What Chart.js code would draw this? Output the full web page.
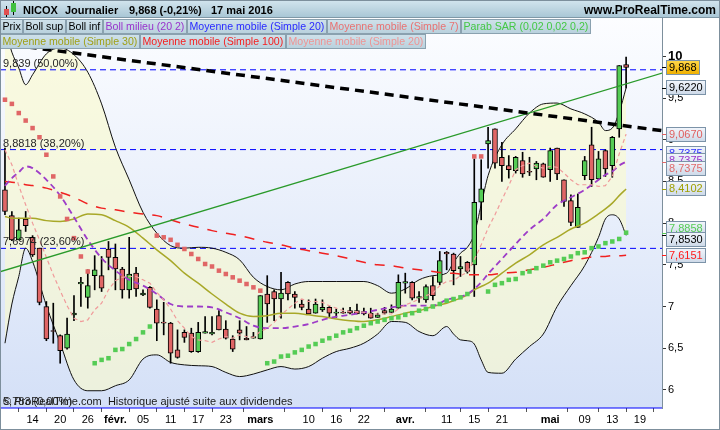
<!DOCTYPE html>
<html>
<head>
<meta charset="utf-8">
<title>NICOX Journalier</title>
<script src="https://cdn.jsdelivr.net/npm/chart.js@4.4.1/dist/chart.umd.min.js"></script>
<style>
  html, body { margin: 0; padding: 0; background: #fff; }
  canvas { display: block; }
</style>
</head>
<body>
<canvas id="chart" width="720" height="430"></canvas>
<script>
// NICOX daily candles, 8 Jan -> 17 May 2016 (x = trading day index)
const opens = [8.40,8.09,7.80,8.05,7.83,7.70,7.00,6.71,6.65,6.50, 6.90,7.27,7.11,7.37,7.37,7.69,7.59,7.45,7.20,7.40,
  7.14,7.23,6.97,6.81,6.80,6.48,6.69,6.68,6.46,6.68, 6.67,6.89,6.73,6.61,6.72,6.62,6.62,6.61,7.15,7.18,
  7.09,7.29,7.15,7.03,6.97,6.92,6.96,6.99,6.92,6.93, 6.95,6.95,6.94,6.92,6.87,6.95,6.93,6.98,7.28,7.29,
  7.10,7.08,7.25,7.29,7.65,7.63,7.45,7.53,7.50,8.25, 8.95,9.13,8.79,8.69,8.63,8.75,8.62,8.65,8.71,8.64,
  8.90,8.52,8.27,7.95,8.57,8.94,8.53,8.87,8.69,9.13, 9.90];
const highs = [8.90,8.14,8.06,8.14,7.85,7.70,7.06,7.04,6.66,6.86, 7.13,7.35,7.44,7.61,7.60,7.78,7.75,7.47,7.83,7.47,
  7.20,7.24,7.08,7.05,6.81,6.72,6.72,6.74,6.81,6.88, 6.88,6.95,6.83,6.65,6.83,6.76,6.69,7.13,7.37,7.20,
  7.41,7.30,7.18,7.08,7.08,7.09,7.08,7.00,6.97,6.98, 6.99,7.03,6.98,6.98,6.92,6.99,7.02,7.38,7.40,7.30,
  7.18,7.26,7.36,7.66,7.66,7.64,7.60,7.54,8.77,8.76, 9.15,9.13,8.97,8.81,8.80,8.85,8.79,8.74,8.72,8.90,
  8.90,8.52,8.34,8.35,8.80,9.15,8.86,8.88,9.04,9.89, 9.99];
const lows = [8.10,7.79,7.80,7.90,7.60,7.02,6.59,6.56,6.32,6.49, 6.83,7.00,6.98,7.20,7.18,7.44,7.20,7.10,7.10,7.12,
  7.13,6.98,6.59,6.66,6.32,6.38,6.57,6.45,6.45,6.68, 6.66,6.72,6.61,6.46,6.60,6.60,6.62,6.61,6.81,6.83,
  6.86,7.08,6.98,6.96,6.91,6.92,6.94,6.88,6.87,6.92, 6.91,6.91,6.90,6.86,6.87,6.91,6.93,6.98,7.16,7.08,
  7.05,7.05,7.08,7.26,7.44,7.26,7.36,7.40,7.12,8.04, 8.66,8.66,8.50,8.54,8.60,8.55,8.57,8.52,8.55,8.50,
  8.52,8.20,7.97,7.95,8.52,8.44,8.52,8.56,8.55,9.03, 9.62];
const closes = [8.14,7.80,7.92,7.97,7.62,7.05,6.61,6.70,6.47,6.67, 6.92,7.29,7.25,7.44,7.22,7.59,7.45,7.20,7.39,7.21,
  7.16,6.99,6.80,6.80,6.44,6.39,6.63,6.46,6.69,6.70, 6.69,6.72,6.62,6.49,6.68,6.60,6.64,7.13,7.03,7.09,
  7.16,7.15,7.11,6.99,6.91,7.03,6.99,6.92,6.92,6.92, 6.92,6.91,6.91,6.86,6.90,6.92,6.97,7.29,7.30,7.10,
  7.12,7.24,7.13,7.55,7.63,7.43,7.48,7.42,8.25,8.41, 8.99,8.72,8.69,8.64,8.79,8.59,8.61,8.72,8.55,8.87,
  8.59,8.26,8.01,8.19,8.75,8.52,8.77,8.65,9.03,9.889, 9.868];

// parabolic SAR, one value per candle
const sar = [9.48,9.43,9.32,9.23,9.14,9.03,8.82,8.56,8.32,8.05,7.82,7.60,7.42,
  6.32,6.36,6.38,6.48,6.49,6.55,6.61,6.69,6.76,
  7.85,7.83,7.80,7.74,7.69,7.63,7.57,7.51,7.48,7.43,7.39,7.35,7.31,7.27,7.23,7.19,
  6.32,6.34,6.40,6.41,6.45,6.48,6.52,6.55,6.59,6.62,6.65,6.69,6.71,6.74,6.77,6.80,6.82,6.84,6.86,6.87,
  6.90,6.92,6.95,6.97,7.00,7.03,7.07,7.09,7.11,7.15,
  8.80,8.80,
  7.18,7.26,7.28,7.32,7.33,7.40,7.42,7.46,7.49,7.53,7.55,7.57,7.60,7.64,7.65,7.70,7.72,7.76,7.78,7.81,7.8858];

// moving average 7, one value per candle
const ma7 = [8.88,8.70,8.45,8.22,8.00,7.80,7.59,7.38,7.19,7.01, 6.86,6.82,6.84,6.96,7.04,7.20,7.31,7.35,7.36,7.36,
  7.32,7.28,7.17,7.08,6.97,6.83,6.74,6.64,6.60,6.59, 6.57,6.61,6.64,6.62,6.66,6.64,6.63,6.70,6.74,6.81,
  6.90,6.97,7.04,7.09,7.06,7.06,7.05,7.01,6.98,6.95, 6.94,6.94,6.93,6.91,6.91,6.91,6.91,6.97,7.02,7.05,
  7.09,7.13,7.16,7.25,7.30,7.31,7.37,7.41,7.56,7.74, 7.94,8.10,8.28,8.45,8.64,8.69,8.72,8.68,8.66,8.68,
  8.67,8.60,8.52,8.46,8.46,8.46,8.44,8.45,8.56,8.83, 9.067];

// slower indicators read at these candle indexes
const lineIdx = [0,1,2,3,4,6,8,10,12,14,16,18,20,22,24,26,28,30,32,34,36,38,40,42,44,46,48,50,52,54,56,58,60,62,64,
  65,66,67,68,69,70,72,74,76,78,80,82,84,86,87,88,89,90];
const bollUp = [10.34,10.05,9.86,9.66,9.78,10.03,10.10,10.02,9.81,9.43,8.91,8.52,8.13,7.88,7.73,7.70,7.71,7.70,7.65,7.56,
  7.35,7.24,7.20,7.27,7.30,7.30,7.30,7.30,7.30,7.25,7.16,7.21,7.32,7.37,7.40,
  7.53,7.64,7.71,7.87,8.22,8.57,8.94,9.13,9.32,9.43,9.44,9.37,9.31,9.21,9.11,9.14,9.33,9.622];
const bollMid = [8.45,8.54,8.61,8.68,8.66,8.52,8.33,8.07,7.80,7.58,7.43,7.32,7.25,7.15,7.03,7.00,7.00,6.99,6.93,6.86,
  6.77,6.74,6.74,6.76,6.79,6.84,6.88,6.90,6.93,6.96,6.99,7.01,7.01,7.01,7.08,
  7.10,7.12,7.15,7.21,7.29,7.39,7.57,7.75,7.92,8.05,8.22,8.31,8.40,8.52,8.58,8.62,8.69,8.7375];
const bollLow = [6.56,7.03,7.36,7.70,7.54,7.01,6.56,6.12,5.99,5.99,6.05,6.12,6.37,6.42,6.33,6.30,6.29,6.28,6.21,6.16,
  6.19,6.24,6.28,6.25,6.28,6.38,6.46,6.50,6.56,6.67,6.82,6.81,6.70,6.65,6.76,
  6.67,6.60,6.59,6.55,6.36,6.21,6.20,6.37,6.52,6.67,7.00,7.25,7.49,7.83,8.05,8.10,8.05,7.853];
const ma30 = [8.08,8.06,8.06,8.06,8.06,8.03,8.02,8.05,8.11,8.10,8.03,7.95,7.82,7.68,7.55,7.40,7.28,7.15,7.03,6.92,
  6.88,6.89,6.92,6.92,6.90,6.88,6.85,6.83,6.82,6.84,6.88,6.92,6.95,7.00,7.04,
  7.07,7.10,7.14,7.20,7.24,7.28,7.40,7.52,7.62,7.74,7.83,7.93,8.00,8.11,8.17,8.24,8.33,8.4102];
const ma100 = [8.50,8.49,8.48,8.46,8.45,8.42,8.37,8.31,8.23,8.18,8.16,8.13,8.11,8.09,8.04,7.99,7.95,7.91,7.88,7.85,
  7.81,7.77,7.74,7.70,7.67,7.64,7.61,7.57,7.53,7.50,7.49,7.46,7.44,7.42,7.40,
  7.40,7.39,7.38,7.38,7.38,7.38,7.40,7.41,7.44,7.47,7.51,7.55,7.58,7.60,7.60,7.61,7.61,7.6151];

// hand-drawn trend lines (index, value)
const trendX = [-1, 96];
const greenTrend = [7.41, 9.82];
const blackTrend = [10.16, 9.10];

// Fibonacci retracement
const fibLevels = [9.839, 8.8818, 7.6974, 5.783];
const fibText = ['9,839 (50,00%)', '8,8818 (38,20%)', '7,6974 (23,60%)', '5,783 (0,00%)'];

// axis ticks
const tickIdx = [4,8,12,16,20,24,28,32,37,44,48,52,58,64,68,72,79,84,88,92];
const tickText = ['14','20','26','févr.','05','11','17','23','mars','10','16','22','avr.','11','15','21','mai','09','13','19'];
const monthTicks = ['févr.','mars','avr.','mai'];
const yTicks = [6,6.5,7,7.5,8,8.5,9,9.5,10];

const xMin = -0.72, xMax = 95.2, yMin = 5.783, yMax = 10.46;
const FONT = '"Liberation Sans", Arial, sans-serif';
Chart.defaults.font.family = FONT;

const last = a => a[a.length - 1];
const fmt = (v, d) => v.toFixed(d).replace('.', ',');
const xy = (xs, ys) => ys.map((y, i) => ({ x: xs[i], y: y }));
const days = closes.map((c, i) => i);
const UP = '#55cc55', DOWN = '#e06666';

const line = (data, color, width, dash, order, extra) => Object.assign({
  type: 'line', data: data, borderColor: color, borderWidth: width, borderDash: dash || [],
  pointRadius: 0, tension: 0, fill: false, order: order
}, extra || {});

const datasets = [
  line(xy(trendX, blackTrend), '#000000', 3.5, [9, 6], 1),
  line(xy(trendX, greenTrend), '#2a9a2a', 1.2, null, 2),
  {
    type: 'line', data: xy(days, sar), showLine: false, pointStyle: 'rect', pointRadius: 3.2,
    pointBorderWidth: 0, pointBackgroundColor: sar.map((s, i) => s > closes[i] ? DOWN : UP), order: 3
  },
  line(xy(days, ma7), '#f09a9a', 1.2, [4, 3], 4),
  line(xy(lineIdx, bollMid), '#9d3cc8', 1.8, [6, 4], 5, { cubicInterpolationMode: 'monotone' }),
  line(xy(lineIdx, bollMid), '#f2b8c0', 1, [3, 7], 6, { cubicInterpolationMode: 'monotone' }),
  line(xy(lineIdx, ma30), '#a8a828', 1.5, null, 8, { cubicInterpolationMode: 'monotone' }),
  line(xy(lineIdx, ma100), '#f02020', 1.5, [10, 9], 9, { cubicInterpolationMode: 'monotone' }),
  {
    type: 'bar', data: days.map(i => ({ x: i, y: [Math.min(opens[i], closes[i]), Math.max(opens[i], closes[i])] })),
    backgroundColor: days.map(i => closes[i] >= opens[i] ? UP : DOWN), borderColor: '#000', borderWidth: 1,
    borderSkipped: false, barThickness: 5, minBarLength: 1, grouped: false, order: 10
  },
  {
    type: 'bar', data: days.map(i => ({ x: i, y: [lows[i], highs[i]] })),
    backgroundColor: '#000', barThickness: 1, grouped: false, order: 11
  },
  line(xy(lineIdx, bollUp), '#111111', 1, null, 12, { cubicInterpolationMode: 'monotone', fill: '+1', backgroundColor: 'rgba(250,250,205,0.62)' }),
  line(xy(lineIdx, bollLow), '#111111', 1, null, 13, { cubicInterpolationMode: 'monotone' })
];
fibLevels.forEach((lv, k) => {
  datasets.push(line([{ x: xMin, y: lv }, { x: xMax, y: lv }], '#0000ff', 1, k === 3 ? null : [6, 4], 20 + k, { clip: false }));
});

const legendRows = [
  [['Prix', '#000'], ['Boll sup', '#000'], ['Boll inf', '#000'], ['Boll milieu (20 2)', '#9933cc'],
   ['Moyenne mobile (Simple 20)', '#2a2aff'], ['Moyenne mobile (Simple 7)', '#e87272'], ['Parab SAR (0,02 0,02 0,2)', '#44c844']],
  [['Moyenne mobile (Simple 30)', '#a0a018'], ['Moyenne mobile (Simple 100)', '#f52020'], ['Moyenne mobile (Simple 20)', '#ee9494']]
];

// value tags on the right axis: value, text colour, nudge so they stack like the original
const rightTags = [
  { v: last(bollMid), d: 4, color: '#3030ff', dy: -8 },
  { v: last(bollMid), d: 4, color: '#9933cc', dy: -1 },
  { v: last(bollMid), d: 4, color: '#e06a6a', dy: 7 },
  { v: last(ma30), d: 4, color: '#a0a000', dy: 0 },
  { v: last(sar), d: 4, color: '#55cc55', dy: -4 },
  { v: last(bollLow), d: 4, color: '#000', dy: 4 },
  { v: last(ma100), d: 4, color: '#ff1a1a', dy: 0 },
  { v: last(ma7), d: 4, color: '#e06060', dy: 0 },
  { v: last(bollUp), d: 4, color: '#000', dy: 0 },
  { v: last(closes), d: 3, color: '#000', dy: 0, price: true }
];

const decor = {
  id: 'decor',
  beforeDraw(chart) {
    const { ctx, chartArea: a } = chart;
    ctx.save();
    ctx.fillStyle = '#fff';
    ctx.fillRect(0, 0, chart.width, chart.height);
    const g = ctx.createLinearGradient(0, a.top, 0, a.bottom);
    g.addColorStop(0, '#fcfdff');
    g.addColorStop(1, '#d4e0f7');
    ctx.fillStyle = g;
    ctx.fillRect(a.left, a.top, a.right - a.left, a.bottom - a.top);
    ctx.restore();
  },
  afterDatasetsDraw(chart) {
    const { ctx } = chart;
    const y = chart.scales.y;
    ctx.save();
    ctx.font = '11px ' + FONT;
    ctx.fillStyle = '#262626';
    ctx.textBaseline = 'bottom';
    fibLevels.forEach((lv, k) => {
      ctx.fillText(fibText[k], 3, Math.round(y.getPixelForValue(lv)) - 1);
    });
    ctx.fillStyle = '#1a1a1a';
    ctx.fillText('\u00a9 ProRealTime.com  Historique ajusté suite aux dividendes', 3, 407);
    ctx.restore();
  },
  afterDraw(chart) {
    const { ctx } = chart;
    const ys = chart.scales.y;
    ctx.save();
    // title bar
    let g = ctx.createLinearGradient(0, 0, 0, 18);
    g.addColorStop(0, '#d3e5ee');
    g.addColorStop(1, '#a7c5d4');
    ctx.fillStyle = g;
    ctx.fillRect(0, 0, 720, 18);
    ctx.fillStyle = '#7f98a6';
    ctx.fillRect(0, 17, 720, 1);
    // candle icon
    ctx.fillStyle = '#000';
    ctx.fillRect(6, 6, 1, 11);
    ctx.fillRect(13, 1, 1, 14);
    ctx.fillStyle = '#e05050';
    ctx.fillRect(4, 9, 5, 6);
    ctx.fillStyle = '#40c040';
    ctx.fillRect(11, 3, 5, 9);
    ctx.fillStyle = '#000';
    ctx.textBaseline = 'alphabetic';
    ctx.font = 'bold 11px ' + FONT;
    ctx.fillText('NICOX', 23, 14);
    ctx.fillText('Journalier', 65, 14);
    ctx.fillText('9,868 (-0,21%)', 129, 14);
    ctx.fillText('17 mai 2016', 211, 14);
    ctx.font = 'bold 12px ' + FONT;
    ctx.textAlign = 'right';
    ctx.fillText('www.ProRealTime.com', 716, 14);
    ctx.textAlign = 'left';

    // indicator legend boxes
    ctx.font = '10.6px ' + FONT;
    ctx.textBaseline = 'middle';
    legendRows.forEach((row, r) => {
      let x = 0.5;
      const top = 19.5 + r * 15;
      row.forEach(([txt, col]) => {
        const w = Math.round(ctx.measureText(txt).width) + 4;
        const bg = ctx.createLinearGradient(0, top, 0, top + 14);
        bg.addColorStop(0, '#cfe1ea');
        bg.addColorStop(1, '#b9d1dd');
        ctx.fillStyle = bg;
        ctx.fillRect(x, top, w, 14);
        ctx.strokeStyle = '#8aa1af';
        ctx.lineWidth = 1;
        ctx.strokeRect(x, top, w, 14);
        ctx.fillStyle = col;
        ctx.fillText(txt, x + 2, top + 7.5);
        x += w + 1;
      });
    });

    // right value tags
    ctx.font = '11px ' + FONT;
    rightTags.forEach(t => {
      const py = ys.getPixelForValue(t.v);
      const txt = fmt(t.v, t.d);
      const w = Math.round(ctx.measureText(txt).width) + 5;
      const top = Math.round(py - 7.5 + t.dy) + 0.5;
      ctx.fillStyle = t.color;
      ctx.fillRect(662, Math.round(py), 4, 1);
      if (t.price) {
        const pg = ctx.createLinearGradient(0, top, 0, top + 14);
        pg.addColorStop(0, '#ffd84a');
        pg.addColorStop(1, '#f0b000');
        ctx.fillStyle = pg;
      } else {
        const bg = ctx.createLinearGradient(0, top, 0, top + 14);
        bg.addColorStop(0, '#f2f6fc');
        bg.addColorStop(1, '#cdd9e8');
        ctx.fillStyle = bg;
      }
      ctx.fillRect(666.5, top, w, 14);
      ctx.strokeStyle = '#7c93a8';
      ctx.strokeRect(666.5, top, w, 14);
      ctx.fillStyle = t.color;
      ctx.fillText(txt, 669, top + 7.5);
    });

    // outer frame
    ctx.strokeStyle = '#7d8f9c';
    ctx.lineWidth = 1;
    ctx.strokeRect(0.5, 0.5, 719, 429);
    ctx.restore();
  }
};

new Chart(document.getElementById('chart'), {
  type: 'line',
  data: { datasets: datasets },
  options: {
    responsive: false,
    animation: false,
    devicePixelRatio: 1,
    layout: { autoPadding: false, padding: { top: 18, left: 0, right: 0, bottom: 0 } },
    plugins: {
      legend: { display: false },
      tooltip: { enabled: false },
      filler: { drawTime: 'beforeDatasetsDraw' }
    },
    scales: {
      x: {
        type: 'linear', min: xMin, max: xMax, offset: false,
        afterBuildTicks: s => { s.ticks = tickIdx.map(v => ({ value: v })); },
        afterFit: s => { s.height = 22; s.paddingLeft = 0; s.paddingRight = 0; },
        ticks: {
          autoSkip: false, maxRotation: 0, padding: 1, color: '#000',
          callback: v => tickText[tickIdx.indexOf(v)],
          font: c => ({ size: 11, weight: c.tick && monthTicks.includes(tickText[tickIdx.indexOf(c.tick.value)]) ? 'bold' : 'normal' })
        },
        grid: { drawOnChartArea: false, tickLength: 4, color: '#555' },
        border: { display: false }
      },
      y: {
        position: 'right', min: yMin, max: yMax,
        afterBuildTicks: s => { s.ticks = yTicks.map(v => ({ value: v })); },
        afterFit: s => { s.width = 58; s.paddingTop = 0; s.paddingBottom = 0; },
        ticks: {
          padding: 2, color: '#000',
          callback: v => String(v).replace('.', ','),
          font: c => (c.tick && c.tick.value === 10 ? { size: 13, weight: 'bold' } : { size: 11 })
        },
        grid: { drawOnChartArea: false, tickLength: 4, color: '#333' },
        border: { display: true, color: '#7d8f9c' }
      }
    }
  },
  plugins: [decor]
});
</script>
</body>
</html>
